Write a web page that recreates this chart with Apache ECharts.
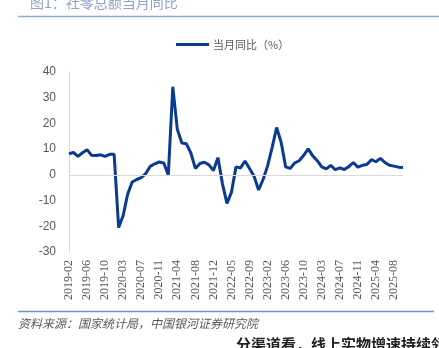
<!DOCTYPE html>
<html>
<head>
<meta charset="utf-8">
<script src="https://cdn.jsdelivr.net/npm/echarts@6/dist/echarts.min.js"></script>
<style>
html,body{margin:0;padding:0;background:#fff;}
#chart{width:439px;height:348px;}
</style>
</head>
<body>
<div id="chart"></div>
<script>
const categories = [
  '2019-02','2019-03','2019-04','2019-05','2019-06','2019-07','2019-08','2019-09','2019-10','2019-11','2019-12',
  '2020-02','2020-03','2020-04','2020-05','2020-06','2020-07','2020-08','2020-09','2020-10','2020-11','2020-12',
  '2021-02','2021-03','2021-04','2021-05','2021-06','2021-07','2021-08','2021-09','2021-10','2021-11','2021-12',
  '2022-02','2022-03','2022-04','2022-05','2022-06','2022-07','2022-08','2022-09','2022-10','2022-11','2022-12',
  '2023-02','2023-03','2023-04','2023-05','2023-06','2023-07','2023-08','2023-09','2023-10','2023-11','2023-12',
  '2024-02','2024-03','2024-04','2024-05','2024-06','2024-07','2024-08','2024-09','2024-10','2024-11','2024-12',
  '2025-02','2025-03','2025-04','2025-05','2025-06','2025-07','2025-08','2025-09','2025-10'
];
const yoyValues = [
  8.2, 8.7, 7.2, 8.6, 9.8, 7.6, 7.5, 7.8, 7.2, 8.0, 8.0,
  -20.5, -15.8, -7.5, -2.8, -1.8, -1.1, 0.5, 3.3, 4.3, 5.0, 4.6,
  0, 34.2, 17.7, 12.4, 12.1, 8.5, 2.5, 4.4, 4.9, 3.9, 1.7,
  6.7, -3.5, -11.1, -6.7, 3.1, 2.7, 5.4, 2.5, -0.5, -5.9, -1.8,
  3.5, 10.6, 18.4, 12.7, 3.1, 2.5, 4.6, 5.5, 7.6, 10.1, 7.4,
  5.5, 3.1, 2.3, 3.7, 2.0, 2.7, 2.1, 3.2, 4.8, 3.0, 3.7,
  4.0, 5.9, 5.1, 6.4, 4.8, 3.7, 3.4, 3.0, 2.9
];
const seriesName = '当月同比（%）';
const yTicks = { min: -30, max: 40, interval: 10 };
const titleText = '图1：社零总额当月同比';
const sourceText = '资料来源：国家统计局，中国银河证券研究院';
const footerText = '分渠道看，线上实物增速持续领先';

const chart = echarts.init(document.getElementById('chart'), null, { renderer: 'canvas' });
chart.setOption({
  animation: false,
  backgroundColor: '#ffffff',
  graphic: [
    { type: 'text', left: 30, top: -4, style: { text: titleText, fill: '#8FA2C7', font: '14px "Noto Sans CJK SC"' } },
    { type: 'line', shape: { x1: 18, y1: 16.5, x2: 439, y2: 16.5 }, style: { stroke: '#8FA8D4', lineWidth: 1.5 } },
    { type: 'line', shape: { x1: 18, y1: 311.5, x2: 434, y2: 311.5 }, style: { stroke: '#6F93D0', lineWidth: 1.5 } },
    { type: 'text', left: 18, top: 317, style: { text: sourceText, fill: '#595959', font: 'italic 12px "Noto Sans CJK SC"' } },
    { type: 'text', left: 236, top: 337, style: { text: footerText, fill: '#222222', font: 'bold 15px "Noto Sans CJK SC"' } }
  ],
  legend: {
    top: 34,
    left: 171,
    icon: 'rect',
    itemWidth: 33,
    itemHeight: 3,
    itemGap: 10,
    textStyle: { color: '#595959', fontSize: 11, fontFamily: 'Noto Sans CJK SC', padding: [0, 0, 0, -1] },
    data: [seriesName]
  },
  grid: { left: 69, right: 36, top: 72, bottom: 96, containLabel: false },
  xAxis: {
    type: 'category',
    data: categories,
    boundaryGap: false,
    axisLine: { show: false },
    axisTick: { show: false },
    axisLabel: {
      interval: 3,
      rotate: 90,
      margin: 8,
      color: '#595959',
      fontSize: 12,
      fontFamily: 'Liberation Serif, serif'
    },
    splitLine: { show: false }
  },
  yAxis: {
    type: 'value',
    min: yTicks.min,
    max: yTicks.max,
    interval: yTicks.interval,
    axisLine: { show: true, lineStyle: { color: '#D9D9D9', width: 1 } },
    axisTick: { show: false },
    axisLabel: { color: '#595959', fontSize: 12, fontFamily: 'Liberation Sans, sans-serif', margin: 13 },
    splitLine: { show: false }
  },
  series: [{
    name: seriesName,
    type: 'line',
    data: yoyValues,
    showSymbol: false,
    symbol: 'none',
    lineStyle: { color: '#0B3A91', width: 3 },
    itemStyle: { color: '#0B3A91' },
    markLine: {
      silent: true,
      symbol: 'none',
      label: { show: false },
      lineStyle: { color: '#D9D9D9', type: 'solid', width: 1 },
      data: [{ yAxis: 0 }]
    },
    z: 3
  }]
});
</script>
</body>
</html>
